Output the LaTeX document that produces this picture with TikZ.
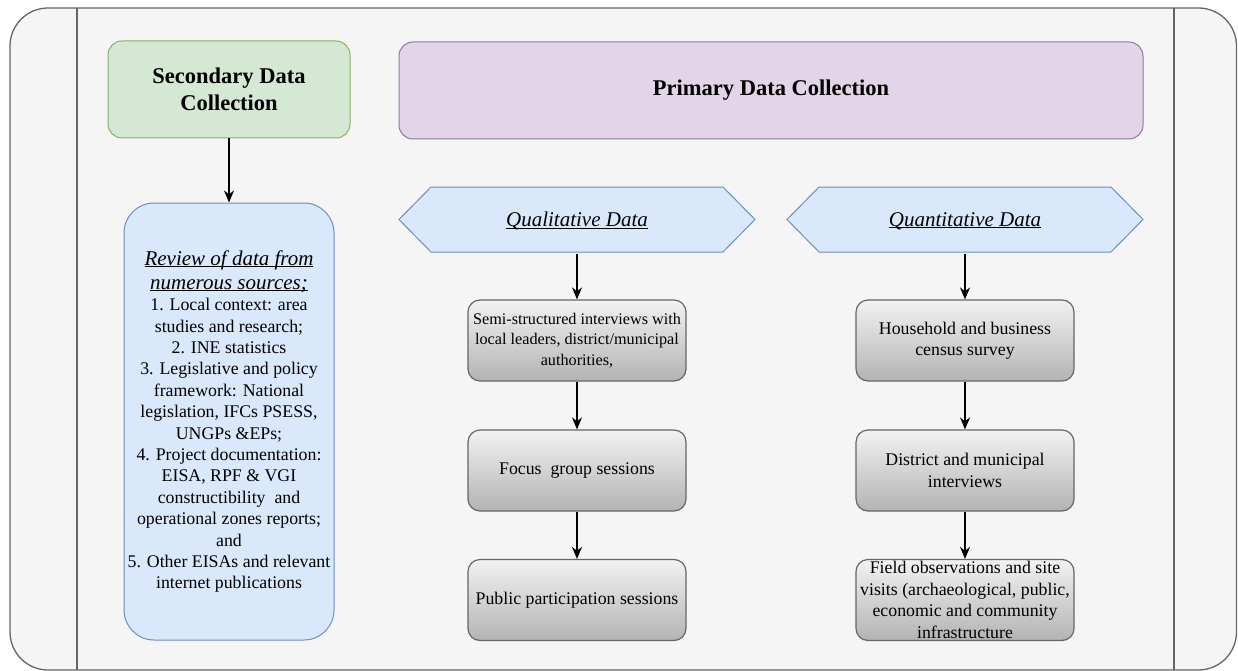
\documentclass[tikz,border=0pt]{standalone}
\usepackage{fontspec}
\setmainfont{Liberation Serif}
\usepackage{calc}
\usetikzlibrary{arrows.meta}

\definecolor{frameFill}{HTML}{F5F5F5}
\definecolor{frameLine}{HTML}{666666}
\definecolor{greenFill}{HTML}{D5E8D4}
\definecolor{greenLine}{HTML}{82B366}
\definecolor{blueFill}{HTML}{DAE8FC}
\definecolor{blueLine}{HTML}{6C8EBF}
\definecolor{purpleFill}{HTML}{E1D5E7}
\definecolor{purpleLine}{HTML}{9673A6}
\definecolor{greyTop}{HTML}{F2F2F2}
\definecolor{greyBottom}{HTML}{B3B3B3}

% underline sitting just under the baseline
\newcommand{\uln}[1]{\leavevmode\rlap{\rule[-2.2pt]{\widthof{#1}}{1pt}}#1}
% hexagon with its tips 32pt out, centred on (#1,#2)
\newcommand{\hexshape}[2]{\draw[blueLine,fill=blueFill,line width=1pt]
    (#1-178,#2) -- (#1-146,#2-32.5) -- (#1+146,#2-32.5) -- (#1+178,#2) -- (#1+146,#2+32.5) -- (#1-146,#2+32.5) -- cycle;}

\begin{document}
\begin{tikzpicture}[x=1pt,y=-1pt]
		\useasboundingbox (0,0) rectangle (1238,671);
		\draw[frameLine,fill=frameFill,line width=1.3pt,rounded corners=38pt] (10,8) rectangle (1236.5,670);
		\draw[frameLine,line width=1.3pt] (77,8) -- (77,670);
		\draw[frameLine,line width=1.3pt] (1174,8) -- (1174,670);

\begin{scope}[every node/.style={draw,line width=1pt,rounded corners=14pt,align=center,minimum height=97pt,font=\fontsize{22.5}{27}\selectfont\bfseries}]
    \node[fill=greenFill,draw=greenLine,minimum width=242pt] (second) at (229,89.5) {Secondary Data\\Collection};
    \node[fill=purpleFill,draw=purpleLine,minimum width=744pt] (primary) at (771,90.5) {Primary Data Collection};
\end{scope}

\hexshape{577}{219.5}
\hexshape{965}{219.5}

\begin{scope}[every node/.style={align=center}]
    \node[fill=blueFill,draw=blueLine,line width=1pt,rounded corners=30pt,minimum width=210pt,minimum height=437pt,font=\fontsize{17.8}{21.4}\selectfont] (review) at (229,421.5)
        {{\fontsize{21}{24}\selectfont\itshape\uln{Review of data from}}\\[2.6pt]
         {\fontsize{21}{24}\selectfont\uln{\itshape numerous sources;}}\\
         1. Local context: area\\ studies and research;\\ 2. INE statistics\\
         3. Legislative and policy\\ framework: National\\ legislation, IFCs PSESS,\\ UNGPs \&EPs;\\
         4. Project documentation:\\ EISA, RPF \& VGI\\ constructibility\ \ and\\ operational zones reports;\\ and\\
         5. Other EISAs and relevant\\ internet publications};
    \node[minimum width=292pt,minimum height=65pt,font=\fontsize{21}{24}\selectfont\itshape] (qual) at (577,221) {\uln{Qualitative Data}};
    \node[minimum width=292pt,minimum height=65pt,font=\fontsize{21}{24}\selectfont\itshape] (quant) at (965,221) {\uln{Quantitative Data}};
\end{scope}

\begin{scope}[every node/.style={draw=frameLine,line width=1.2pt,rounded corners=12pt,top color=greyTop,bottom color=greyBottom,
        align=center,minimum width=218pt,minimum height=81pt,inner sep=1pt,font=\fontsize{17.8}{21.4}\selectfont}]
    \node[font=\fontsize{16.2}{20.5}\selectfont] (qualA) at (577,340.5) {Semi-structured interviews with\\ local leaders, district/municipal\\ authorities,};
    \node (qualB) at (577,470.5) {Focus\ \ group sessions};
    \node (qualC) at (577,600) {Public participation sessions};
    \node (quantA) at (965,340.5) {Household and business\\ census survey};
    \node (quantB) at (965,470.5) {District and municipal\\ interviews};
    \node (quantC) at (965,600) {Field observations and site\\ visits (archaeological, public,\\ economic and community\\ infrastructure};
\end{scope}

\begin{scope}[>={Stealth[length=12pt,width=10pt]},every edge/.style={draw=black,line width=1.5pt}]
    \path [->] (second) edge (review);
    \path [->] (qual) edge (qualA);
    \path [->] (qualA) edge (qualB);
    \path [->] (qualB) edge (qualC);
    \path [->] (quant) edge (quantA);
    \path [->] (quantA) edge (quantB);
    \path [->] (quantB) edge (quantC);
\end{scope}
	\end{tikzpicture}
\end{document}
